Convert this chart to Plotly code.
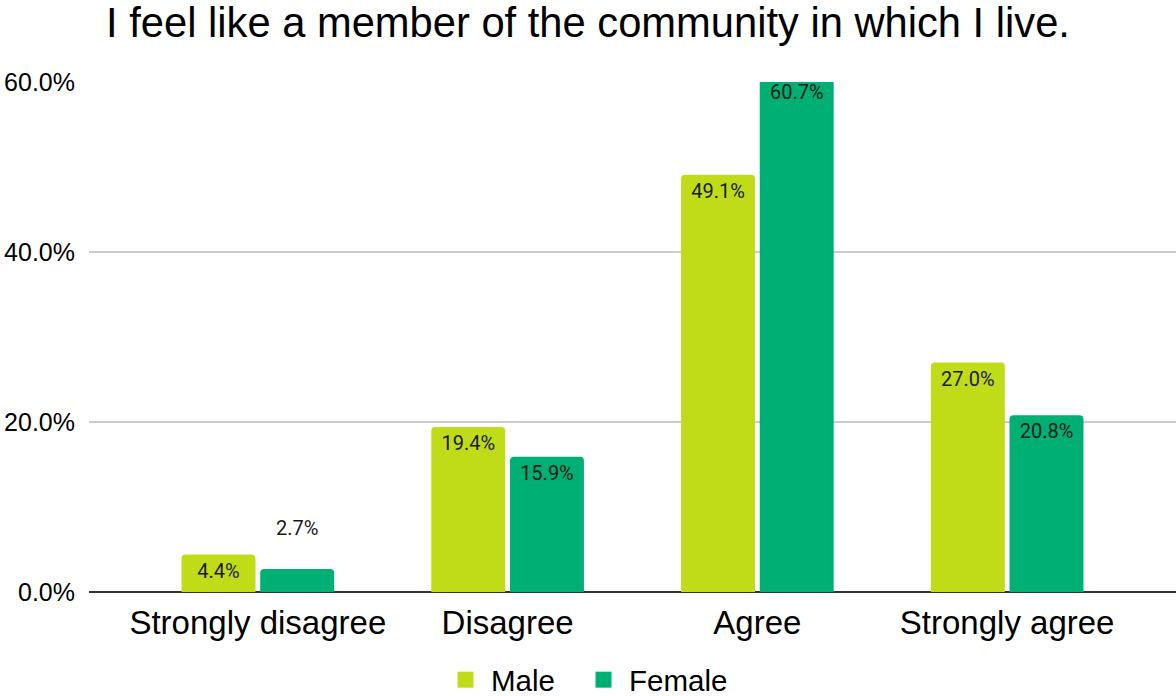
import plotly.graph_objects as go

categories = ["Strongly disagree", "Disagree", "Agree", "Strongly agree"]
male = [4.4, 19.4, 49.1, 27.0]
female = [2.7, 15.9, 60.7, 20.8]
series_names = ["Male", "Female"]
y_ticks = [0, 20, 40, 60]
y_tick_labels = ["0.0%", "20.0%", "40.0%", "60.0%"]

colors = ["#C0DC18", "#00AF73"]

W, H = 1176, 696

def positions(vals):
    return ["outside" if v < 3.5 else "inside" for v in vals]

def labels(vals):
    # outside labels get a blank second line so they sit higher above the bar
    return [f"{v:.1f}%" + ("<br> " if v < 3.5 else "") for v in vals]

fig = go.Figure()
for name, vals, col in zip(series_names, [male, female], colors):
    fig.add_trace(go.Bar(
        x=categories, y=vals, name=name, showlegend=False,
        marker=dict(color=col, line=dict(width=0)),
        text=labels(vals),
        textposition=positions(vals),
        insidetextanchor="end",
        textangle=0,
        constraintext="none",
        cliponaxis=True,
        insidetextfont=dict(color="#1a1a1a", size=20, family="Roboto"),
        outsidetextfont=dict(color="#1a1a1a", size=20, family="Roboto"),
        hoverinfo="skip",
    ))
for name, col, lg in zip(series_names, colors, ["legend", "legend2"]):
    fig.add_trace(go.Scatter(
        x=[None], y=[None], mode="markers", name=name, legend=lg,
        marker=dict(symbol="square", size=16, color=col),
        hoverinfo="skip",
    ))

legend_common = dict(orientation="h", xref="container", xanchor="left",
                     yref="container", y=1 - 680/H, yanchor="middle",
                     font=dict(family="Liberation Sans, Arial", size=29.5, color="#000"),
                     itemsizing="trace", itemwidth=41, bgcolor="rgba(0,0,0,0)")

fig.update_layout(
    width=W, height=H,
    margin=dict(l=89, r=0, t=82, b=104, autoexpand=False),
    paper_bgcolor="white", plot_bgcolor="white",
    barmode="group", bargap=0.37, bargroupgap=0.06,
    barcornerradius=4,
    title=dict(text="I feel like a member of the community in which I live.",
               font=dict(family="Liberation Sans, Arial", size=41.7, color="#000"),
               x=0.5, xref="container", xanchor="center",
               y=1 - 22/H, yref="container", yanchor="middle"),
    legend=dict(x=440/W, **legend_common),
    legend2=dict(x=578/W, **legend_common),
    showlegend=True,
)

fig.update_xaxes(
    range=[-0.676, 3.676], automargin=False,
    tickfont=dict(family="Liberation Sans, Arial", size=33, color="#000"),
    showgrid=False, ticks="", showline=False,
    ticklabelstandoff=8,
)
fig.update_yaxes(
    range=[0, 60], automargin=False,
    tickvals=y_ticks, ticktext=y_tick_labels,
    tickfont=dict(family="Liberation Sans, Arial", size=25, color="#000"),
    showgrid=True, gridcolor="#cccccc", gridwidth=2,
    zeroline=True, zerolinecolor="#333333", zerolinewidth=2,
    ticks="", showline=False, ticklabelstandoff=13,
)

# remove the browser's default 8px body margin so the figure fills the window
fig.write_html("out.html", config={"displayModeBar": False},
               post_script="document.body.style.margin='0';")
